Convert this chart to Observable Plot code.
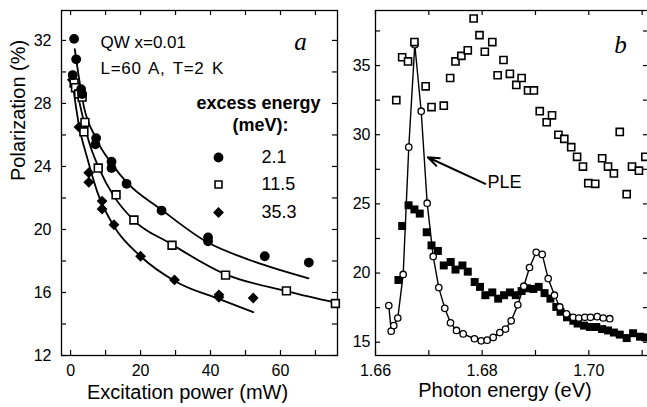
<!DOCTYPE html>
<html><head><meta charset="utf-8">
<script src="https://cdn.jsdelivr.net/npm/d3@7"></script>
<script src="https://cdn.jsdelivr.net/npm/@observablehq/plot@0.6"></script>
<style>
body{margin:0;background:#fff;}
#wrap{display:flex;width:647px;height:407px;overflow:hidden;}
#wrap svg{flex-shrink:0;}
.wide text{word-spacing:2px;letter-spacing:0.7px;}
</style></head><body><div id="wrap"></div>
<script>
// ---------- Panel a data ----------
const powerE21 = [1.0, 1.6, 0.6, 3.0, 3.3, 7.3, 7.1, 11.7, 11.7, 16, 26, 39.3, 39.3, 55.5, 68.1];
const polE21   = [32.1, 30.8, 29.8, 28.9, 28.6, 25.8, 25.4, 24.3, 23.9, 22.9, 21.2, 19.5, 19.25, 18.3, 17.9];
const powerE115 = [1.0, 1.4, 2.3, 3.3, 4.1, 3.8, 7.9, 13.0, 18.1, 29.0, 44.3, 61.7, 75.7];
const polE115   = [29.3, 29.0, 28.6, 28.4, 26.8, 26.2, 23.9, 22.2, 20.6, 19.0, 17.1, 16.1, 15.3];
const powerE353 = [0.5, 1.2, 2.4, 5.2, 5.2, 9.0, 9.0, 12.4, 20, 29.7, 42.4, 42.4, 52.2];
const polE353   = [29.5, 29.1, 26.5, 23.6, 23.0, 21.8, 21.3, 20.3, 18.3, 16.8, 15.85, 15.7, 15.65];
// fitted curves
const fitX21 = [1.2, 1.6, 2, 3.8, 7, 12, 16, 26, 39, 52, 68];
const fitY21 = [31.45, 30.8, 30.2, 27.8, 25.9, 24.1, 23.0, 21.25, 19.2, 18.0, 16.9];
const fitX115 = [0.9, 2.9, 5.2, 8.1, 12.4, 18, 28.6, 43.8, 61.9, 76.3];
const fitY115 = [29.8, 27.7, 25.6, 23.9, 22.1, 20.6, 19.1, 17.2, 16.07, 15.33];
const fitX353 = [0.5, 2.4, 4.8, 7.6, 12.4, 20, 30, 42.9, 52.2];
const fitY353 = [29.4, 26.6, 24.5, 22.4, 20.2, 18.3, 16.7, 15.55, 14.75];
const legendLabels = ["2.1", "11.5", "35.3"];
const xTicksA = [0, 20, 40, 60];
const xMinorA = [0, 10, 20, 30, 40, 50, 60, 70];
const yTicksA = [12, 16, 20, 24, 28, 32];
const yMinorA = [12, 14, 16, 18, 20, 22, 24, 26, 28, 30, 32];

// ---------- Panel b data ----------
const eOpen = [1.6639,1.6650,1.6661,1.6673,1.6694,1.6705,1.6728,1.6740,1.6750,1.6761,1.6773,1.6784,1.6795,1.6805,1.6819,1.6829,1.6840,1.6852,1.6864,1.6874,1.6886,1.6897,1.6908,1.6921,1.6931,1.6943,1.6954,1.6967,1.6978,1.6989,1.6999,1.7012,1.7025,1.7036,1.7047,1.7058,1.7071,1.7081,1.7094,1.7106];
const pOpen = [32.5,35.6,35.3,36.7,33.5,32.0,32.1,34.1,35.3,35.7,36.1,38.4,37.2,36.0,36.7,34.3,35.4,34.4,33.6,34.1,33.2,33.2,31.7,30.9,31.4,30.0,29.7,29.1,28.4,27.7,26.5,26.45,28.3,27.7,27.2,30.2,25.7,27.7,27.4,28.4];
const eFilled = [1.6643,1.6650,1.6662,1.6673,1.6683,1.6696,1.6705,1.6717,1.6728,1.6741,1.6750,1.6763,1.6773,1.6786,1.6796,1.6806,1.6819,1.6830,1.6841,1.6852,1.6863,1.6874,1.6884,1.6896,1.6906,1.6917,1.6928,1.6939,1.6947,1.6959,1.6971,1.6979,1.6991,1.7002,1.7014,1.7025,1.7036,1.7047,1.7058,1.7071,1.7083,1.7096,1.7106];
const pFilled = [19.5,23.4,24.9,24.6,24.3,22.95,22.0,21.6,20.55,20.8,20.25,20.55,20.1,19.35,19.0,18.4,18.6,18.15,18.4,18.6,18.4,18.7,18.9,18.85,19.0,18.55,18.15,17.55,17.2,16.8,16.55,16.35,16.2,16.1,16.1,15.95,15.85,15.7,15.55,15.3,15.65,15.4,15.35];
const ePLE = [1.66249,1.66294,1.66343,1.66418,1.66519,1.66624,1.66737,1.66857,1.66969,1.67082,1.67187,1.67299,1.67406,1.67519,1.67644,1.67856,1.67982,1.68094,1.68207,1.68331,1.68438,1.68545,1.68668,1.68781,1.68888,1.69013,1.69126,1.69238,1.69356,1.69456,1.69581,1.69707,1.69812,1.69925,1.70031,1.70157,1.70270,1.70393];
const pPLE = [17.65,15.8,16.2,16.75,19.9,29.1,36.5,31.7,25.05,21.2,18.95,17.45,16.4,15.85,15.6,15.25,15.1,15.15,15.35,15.7,15.95,16.55,17.7,19.05,20.4,21.5,21.35,19.6,18.4,17.55,17.05,16.8,16.75,16.8,16.8,16.85,16.75,16.7];
const arrowPLE = {x1: 1.6806, y1: 26.45, x2: 1.6698, y2: 28.37};
const xTicksB = [1.66, 1.68, 1.70];
const xMinorB = [1.66, 1.67, 1.68, 1.69, 1.70, 1.71];
const yTicksB = [15, 20, 25, 30, 35];
const yMinorB = [15, 17.5, 20, 22.5, 25, 27.5, 30, 32.5, 35, 37.5];

const FONT = "'Liberation Sans', Arial, Helvetica, sans-serif";
const SERIF = "'Liberation Serif', 'Times New Roman', serif";
const H = 407;

function edgeTicks(xv, yv, pw, ph, len) {
  const st = {stroke: "#000", strokeWidth: 1.2};
  return [
    Plot.tickX(xv, {x: d => d, insetTop: ph - len, ...st}),
    Plot.tickX(xv, {x: d => d, insetBottom: ph - len, ...st}),
    Plot.tickY(yv, {y: d => d, insetRight: pw - len, ...st}),
    Plot.tickY(yv, {y: d => d, insetLeft: pw - len, ...st})
  ];
}

// ---------- Panel a ----------
const mA = {top: 10, right: 8, bottom: 52, left: 61, width: 345};
const pwA = mA.width - mA.left - mA.right, phA = H - mA.top - mA.bottom;
const legendDy = [147, 174, 202];
const plotA = Plot.plot({
  width: mA.width, height: H,
  marginTop: mA.top, marginRight: mA.right, marginBottom: mA.bottom, marginLeft: mA.left,
  x: {domain: [-2.6, 76.3]},
  y: {domain: [12, 33.9]},
  style: {fontFamily: FONT, fontSize: "16px", color: "#000", background: "#fff", overflow: "visible"},
  marks: [
    Plot.frame({stroke: "#000", strokeWidth: 1.3}),
    ...edgeTicks(xMinorA, yMinorA, pwA, phA, 5),
    Plot.axisX(xTicksA, {tickSize: 0, tickPadding: 9, fontSize: 16, label: null}),
    Plot.axisY(yTicksA, {tickSize: 0, tickPadding: 10, fontSize: 16, label: null}),
    Plot.text(["Excitation power (mW)"], {text: d => d, frameAnchor: "bottom", dx: -12, dy: 37, fontSize: 20, lineAnchor: "middle"}),
    Plot.text(["Polarization (%)"], {text: d => d, frameAnchor: "left", dx: -43, dy: -2, rotate: -90, fontSize: 20, lineAnchor: "middle"}),
    Plot.line(fitX21, {x: fitX21, y: fitY21, curve: "monotone-x", stroke: "#000", strokeWidth: 1.8}),
    Plot.line(fitX115, {x: fitX115, y: fitY115, curve: "monotone-x", stroke: "#000", strokeWidth: 1.8}),
    Plot.line(fitX353, {x: fitX353, y: fitY353, curve: "monotone-x", stroke: "#000", strokeWidth: 1.8}),
    Plot.dot(powerE353, {x: powerE353, y: polE353, symbol: "diamond2", r: 4.9, fill: "#000"}),
    Plot.dot(powerE115, {x: powerE115, y: polE115, symbol: "square", r: 4.4, fill: "#fff", stroke: "#000", strokeWidth: 1.6}),
    Plot.dot(powerE21, {x: powerE21, y: polE21, r: 4.9, fill: "#000"}),
    Plot.text(["QW x=0.01"], {text: d => d, frameAnchor: "top-left", dx: 39, dy: 32, textAnchor: "start", lineAnchor: "middle", fontSize: 17}),
    Plot.text(["L=60 A, T=2 K"], {text: d => d, className: "wide", frameAnchor: "top-left", dx: 39, dy: 58, textAnchor: "start", lineAnchor: "middle", fontSize: 17}),
    Plot.text(["excess energy"], {text: d => d, frameAnchor: "top-left", dx: 197, dy: 93, textAnchor: "middle", lineAnchor: "middle", fontSize: 18, fontWeight: "bold"}),
    Plot.text(["(meV):"], {text: d => d, frameAnchor: "top-left", dx: 199, dy: 115, textAnchor: "middle", lineAnchor: "middle", fontSize: 18, fontWeight: "bold"}),
    Plot.dot([0], {frameAnchor: "top-left", dx: 157, dy: legendDy[0], r: 4.9, fill: "#000"}),
    Plot.dot([0], {frameAnchor: "top-left", dx: 157, dy: legendDy[1], symbol: "square", r: 3.9, fill: "#fff", stroke: "#000", strokeWidth: 1.6}),
    Plot.dot([0], {frameAnchor: "top-left", dx: 157, dy: legendDy[2], symbol: "diamond2", r: 4.9, fill: "#000"}),
    ...legendLabels.map((t, i) => Plot.text([t], {text: d => d, frameAnchor: "top-left", dx: 200, dy: legendDy[i], textAnchor: "start", lineAnchor: "middle", fontSize: 18})),
    Plot.text(["a"], {text: d => d, frameAnchor: "top-left", dx: 239, dy: 39, textAnchor: "middle", lineAnchor: "bottom", fontSize: 25, fontStyle: "italic", fontFamily: SERIF})
  ]
});

// ---------- Panel b ----------
const mB = {top: 10, right: 2, bottom: 52, left: 30, width: 305};
const pwB = mB.width - mB.left - mB.right, phB = H - mB.top - mB.bottom;
const plotB = Plot.plot({
  width: mB.width, height: H,
  marginTop: mB.top, marginRight: mB.right, marginBottom: mB.bottom, marginLeft: mB.left,
  x: {domain: [1.66, 1.71119]},
  y: {domain: [14.04, 38.98]},
  style: {fontFamily: FONT, fontSize: "16px", color: "#000", background: "#fff", overflow: "visible"},
  marks: [
    Plot.frame({stroke: "#000", strokeWidth: 1.3}),
    ...edgeTicks(xMinorB, yMinorB, pwB, phB, 5),
    Plot.axisX(xTicksB, {tickSize: 0, tickPadding: 9, fontSize: 16, label: null, tickFormat: d3.format(".2f")}),
    Plot.axisY(yTicksB, {tickSize: 0, tickPadding: 5, fontSize: 16, label: null}),
    Plot.text(["Photon energy (eV)"], {text: d => d, frameAnchor: "bottom", dx: -7, dy: 35, fontSize: 20, lineAnchor: "middle"}),
    Plot.line(ePLE, {x: ePLE, y: pPLE, stroke: "#000", strokeWidth: 1.4}),
    Plot.dot(eFilled, {x: eFilled, y: pFilled, symbol: "square", r: 4.5, fill: "#000"}),
    Plot.dot(ePLE, {x: ePLE, y: pPLE, r: 3.2, fill: "#fff", stroke: "#000", strokeWidth: 1.3}),
    Plot.dot(eOpen, {x: eOpen, y: pOpen, symbol: "square", r: 4.0, fill: "#fff", stroke: "#000", strokeWidth: 1.6}),
    Plot.arrow([arrowPLE], {x1: "x1", y1: "y1", x2: "x2", y2: "y2", stroke: "#000", strokeWidth: 2, headLength: 9, headAngle: 40}),
    Plot.text(["PLE"], {text: d => d, frameAnchor: "top-left", dx: 112, dy: 172, textAnchor: "start", lineAnchor: "middle", fontSize: 18}),
    Plot.text(["b"], {text: d => d, frameAnchor: "top-left", dx: 245, dy: 42, textAnchor: "middle", lineAnchor: "bottom", fontSize: 25, fontStyle: "italic", fontFamily: SERIF})
  ]
});

document.getElementById("wrap").append(plotA, plotB);
</script></body></html>
